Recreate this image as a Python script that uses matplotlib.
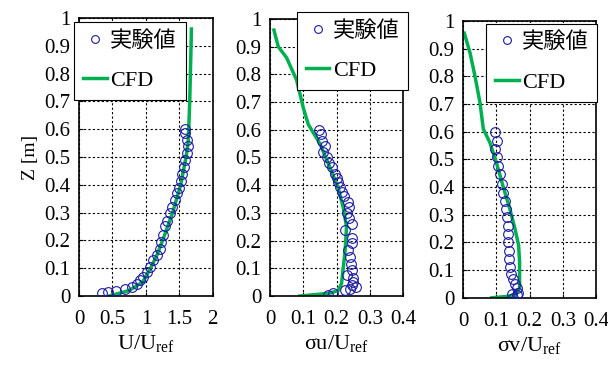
import matplotlib
matplotlib.use('Agg')
import matplotlib.pyplot as plt

# --- data ---
# U/Uref
u_exp_z = [0.01, 0.016, 0.019, 0.024, 0.034, 0.043, 0.058, 0.07, 0.087, 0.105,
           0.13, 0.147, 0.17, 0.195, 0.22, 0.25, 0.27, 0.30, 0.32, 0.345,
           0.37, 0.39, 0.415, 0.44, 0.465, 0.49, 0.515, 0.54, 0.56, 0.585, 0.6]
u_exp = [0.34, 0.44, 0.56, 0.69, 0.79, 0.86, 0.91, 0.96, 1.01, 1.06,
         1.11, 1.16, 1.21, 1.23, 1.26, 1.29, 1.32, 1.36, 1.39, 1.43,
         1.46, 1.49, 1.52, 1.54, 1.57, 1.59, 1.62, 1.63, 1.62, 1.59, 1.59]
u_cfd_z = [0.0, 0.01, 0.02, 0.05, 0.1, 0.15, 0.2, 0.3, 0.4, 0.5, 0.55, 0.6, 0.7, 0.8, 0.9, 0.96]
u_cfd = [0.45, 0.6, 0.75, 0.95, 1.07, 1.17, 1.25, 1.4, 1.52, 1.6, 1.63, 1.64, 1.655, 1.665, 1.675, 1.68]

# sigma_u/Uref
su_exp_z = [0.004, 0.012, 0.02, 0.025, 0.031, 0.04, 0.05, 0.064, 0.075, 0.094,
            0.115, 0.14, 0.165, 0.19, 0.21, 0.237, 0.26, 0.28, 0.3, 0.32,
            0.34, 0.36, 0.375, 0.395, 0.41, 0.425, 0.44, 0.465, 0.48, 0.5,
            0.52, 0.54, 0.56, 0.585, 0.6]
su_exp = [0.175, 0.19, 0.226, 0.24, 0.258, 0.245, 0.25, 0.25, 0.23, 0.245,
          0.242, 0.24, 0.235, 0.245, 0.245, 0.226, 0.245, 0.238, 0.232, 0.236,
          0.235, 0.222, 0.216, 0.21, 0.205, 0.2, 0.195, 0.186, 0.178, 0.17,
          0.16, 0.165, 0.155, 0.152, 0.148]
su_cfd_z = [0.0, 0.01, 0.02, 0.045, 0.165, 0.25, 0.32, 0.39, 0.465, 0.55, 0.62, 0.68, 0.78, 0.86, 0.9, 0.96]
su_cfd = [0.09, 0.18, 0.205, 0.215, 0.226, 0.23, 0.22, 0.205, 0.18, 0.15, 0.115, 0.10, 0.08, 0.05, 0.025, 0.012]

# sigma_v/Uref
sv_exp_z = [0.001, 0.01, 0.013, 0.019, 0.037, 0.05, 0.067, 0.085, 0.11, 0.14,
            0.17, 0.2, 0.23, 0.26, 0.29, 0.32, 0.35, 0.38, 0.41, 0.447,
            0.476, 0.51, 0.537, 0.567, 0.597]
sv_exp = [0.151, 0.161, 0.146, 0.166, 0.161, 0.156, 0.151, 0.144, 0.141, 0.138,
          0.138, 0.136, 0.136, 0.134, 0.131, 0.128, 0.126, 0.121, 0.116, 0.111,
          0.106, 0.101, 0.096, 0.101, 0.096]
sv_cfd_z = [0.0, 0.005, 0.01, 0.035, 0.13, 0.19, 0.25, 0.32, 0.4, 0.49, 0.56, 0.61, 0.705, 0.8, 0.885, 0.955]
sv_cfd = [0.086, 0.13, 0.156, 0.17, 0.17, 0.167, 0.156, 0.141, 0.121, 0.10, 0.081, 0.061, 0.051, 0.036, 0.021, 0.004]

x_labels = [r'$\mathregular{U/U_{ref}}$', r'σu/$\mathregular{U_{ref}}$', r'σv/$\mathregular{U_{ref}}$']
legend_labels = ['実験値', 'CFD']

plt.rcParams['font.family'] = ['Liberation Serif', 'Noto Sans CJK JP']
plt.rcParams['mathtext.fontset'] = 'custom'
plt.rcParams['mathtext.rm'] = 'Liberation Serif'
plt.rcParams['mathtext.it'] = 'Liberation Serif'

fig = plt.figure(figsize=(6.08, 3.65), dpi=100)

# [left, bottom, width, height] in figure fraction
positions = [[0.130, 0.189, 0.220, 0.762],
             [0.444, 0.189, 0.219, 0.759],
             [0.7615, 0.184, 0.219, 0.759]]
exp_sets = [(u_exp, u_exp_z), (su_exp, su_exp_z), (sv_exp, sv_exp_z)]
cfd_sets = [(u_cfd, u_cfd_z), (su_cfd, su_cfd_z), (sv_cfd, sv_cfd_z)]
xlims = [(0, 2), (0, 0.4), (0, 0.4)]
xticks = [[0, 0.5, 1, 1.5, 2], [0, 0.1, 0.2, 0.3, 0.4], [0, 0.1, 0.2, 0.3, 0.4]]
xticklabels = [['0', '0.5', '1', '1.5', '2'], ['0', '0.1', '0.2', '0.3', '0.4'], ['0', '0.1', '0.2', '0.3', '0.4']]
leg_anchor = [(-0.035, 0.985), (0.205, 1.025), (0.175, 0.99)]

yticks = [0, 0.1, 0.2, 0.3, 0.4, 0.5, 0.6, 0.7, 0.8, 0.9, 1]
yticklabels = ['0', '0.1', '0.2', '0.3', '0.4', '0.5', '0.6', '0.7', '0.8', '0.9', '1']

for i in range(3):
    ax = fig.add_axes(positions[i])
    ex, ez = exp_sets[i]
    cx, cz = cfd_sets[i]
    ax.plot(ex, ez, linestyle='none', marker='o', markersize=7, markerfacecolor='none',
            markeredgecolor='#1a1aa0', markeredgewidth=0.8, label=legend_labels[0], zorder=3)
    ax.plot(cx, cz, color='#00b050', linewidth=2.5, label=legend_labels[1], zorder=2)
    ax.set_xlim(*xlims[i])
    ax.set_ylim(0, 1)
    ax.set_xticks(xticks[i])
    ax.set_xticklabels(xticklabels[i])
    ax.set_yticks(yticks)
    ax.set_yticklabels(yticklabels)
    ax.grid(True, color='black', linestyle=(0, (2, 2)), linewidth=0.8)
    ax.set_axisbelow(True)
    ax.tick_params(direction='in', length=3, labelsize=15, width=0.8)
    ax.tick_params(axis='x', pad=10)
    ax.tick_params(axis='y', pad=6)
    for sp in ax.spines.values():
        sp.set_linewidth(1.2)
    ax.set_xlabel(x_labels[i], fontsize=16, labelpad=3)
    leg = ax.legend(loc='upper left', bbox_to_anchor=leg_anchor[i], fontsize=16,
                    frameon=True, fancybox=False, edgecolor='black', framealpha=1,
                    handlelength=1.05, handletextpad=0.15, labelspacing=0.85,
                    borderpad=0.4, borderaxespad=0.0, markerscale=0.8)
    leg.get_frame().set_linewidth(0.8)
    if i == 0:
        ax.set_ylabel('Z [m]', fontsize=14, labelpad=4)

plt.savefig('out.png', dpi=100)
